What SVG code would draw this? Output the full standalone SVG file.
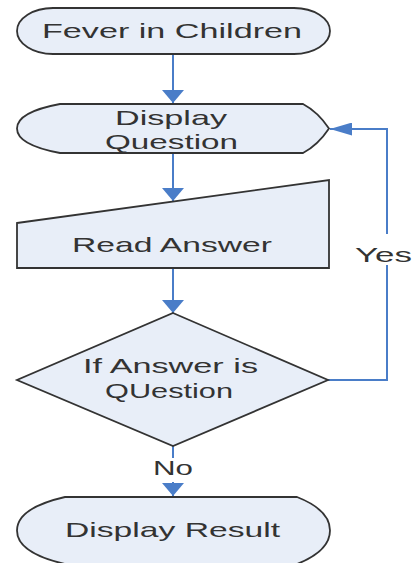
<svg xmlns="http://www.w3.org/2000/svg" width="417" height="563" viewBox="0 0 417 563">
<style>
.shape{fill:#E8EEF8;stroke:#333;stroke-width:1.8}
.conn{fill:none;stroke:#4A7DC8;stroke-width:2}
.lbl{font-family:"Liberation Sans",Arial,sans-serif;font-size:21px;fill:#333}
</style>
<defs>
<marker id="ahV" markerUnits="userSpaceOnUse" viewBox="0 0 13 22" refX="13" refY="11" markerWidth="13" markerHeight="22" orient="auto">
<path d="M0,0 L13,11 L0,22 Z" fill="#4A7DC8"/>
</marker>
<marker id="ahH" markerUnits="userSpaceOnUse" viewBox="0 0 22 13" refX="22" refY="6.5" markerWidth="22" markerHeight="13" orient="auto">
<path d="M0,0 L22,6.5 L0,13 Z" fill="#4A7DC8"/>
</marker>
</defs>
<rect width="417" height="563" fill="#fff"/>
<g id="connectors">
<path class="conn" d="M173,55 L173,103" marker-end="url(#ahV)"/>
<path class="conn" d="M173,153 L173,201" marker-end="url(#ahV)"/>
<path class="conn" d="M173,268 L173,313" marker-end="url(#ahV)"/>
<path class="conn" d="M328,380 L387,380 L387,129 L330,129" marker-end="url(#ahH)"/>
<path class="conn" d="M173,446 L173,496" marker-end="url(#ahV)"/>
<rect x="354" y="234" width="60" height="31" fill="#fff"/>
<text class="lbl" x="355" y="262" textLength="57" lengthAdjust="spacingAndGlyphs">Yes</text>
<rect x="150" y="458" width="46" height="24" fill="#fff"/>
<text class="lbl" x="153" y="475" textLength="40" lengthAdjust="spacingAndGlyphs">No</text>
</g>
<g id="start">
<rect class="shape" x="17" y="8" width="313" height="46" rx="36" ry="23"/>
<text class="lbl" x="42" y="38" font-size="22" textLength="260" lengthAdjust="spacingAndGlyphs">Fever in Children</text>
</g>
<g id="display-question">
<path class="shape" d="M60,104 L303,104 Q318,112 329,128.5 Q318,145 303,153 L60,153 Q17,145 17,128.5 Q17,112 60,104 Z"/>
<text class="lbl" x="115" y="125" textLength="112" lengthAdjust="spacingAndGlyphs">Display</text>
<text class="lbl" x="105" y="149" textLength="133" lengthAdjust="spacingAndGlyphs">Question</text>
</g>
<g id="read-answer">
<path class="shape" d="M17,223 L329,180 L329,268 L17,268 Z"/>
<text class="lbl" x="72" y="252" textLength="200" lengthAdjust="spacingAndGlyphs">Read Answer</text>
</g>
<g id="decision">
<path class="shape" d="M173,313 L328,380 L173,446 L17,380 Z"/>
<text class="lbl" x="83" y="373" textLength="175" lengthAdjust="spacingAndGlyphs">If Answer is</text>
<text class="lbl" x="105" y="398" textLength="128" lengthAdjust="spacingAndGlyphs">QUestion</text>
</g>
<g id="display-result">
<path class="shape" d="M65,497 L297,497 Q330,510 330,530.5 Q330,551 297,564 L65,564 Q17,553 17,530.5 Q17,508 65,497 Z"/>
<text class="lbl" x="65" y="537" textLength="215" lengthAdjust="spacingAndGlyphs">Display Result</text>
</g>
</svg>
